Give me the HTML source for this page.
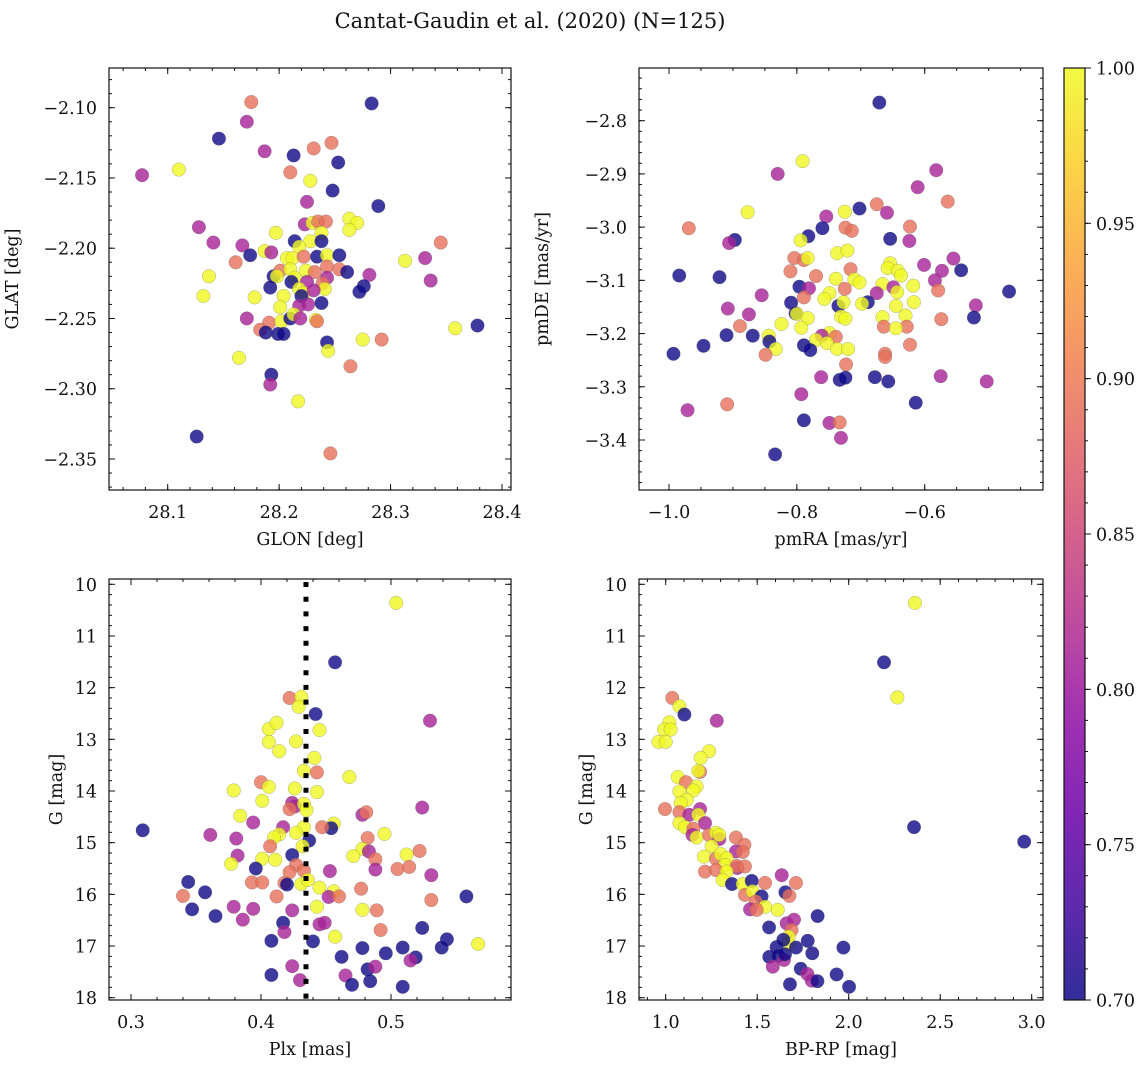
<!DOCTYPE html>
<html><head><meta charset="utf-8"><style>
html,body{margin:0;padding:0;background:#fff;}
svg text{font-family:"DejaVu Serif","Liberation Serif",serif;fill:#111;}
</style></head><body>
<svg id="fig" width="1148" height="1067" viewBox="0 0 1148 1067" xmlns="http://www.w3.org/2000/svg">
<defs>
<linearGradient id="plasma" x1="0" y1="1" x2="0" y2="0">
<stop offset="0" stop-color="#0d0887"/><stop offset="0.1" stop-color="#41049d"/><stop offset="0.2" stop-color="#6a00a8"/><stop offset="0.3" stop-color="#8f0da4"/><stop offset="0.4" stop-color="#b12a90"/><stop offset="0.5" stop-color="#cc4778"/><stop offset="0.6" stop-color="#e16462"/><stop offset="0.7" stop-color="#f2844b"/><stop offset="0.8" stop-color="#fca636"/><stop offset="0.9" stop-color="#fcce25"/><stop offset="1" stop-color="#f0f921"/>
</linearGradient>
</defs>
<text x="530" y="28" font-size="21" text-anchor="middle">Cantat-Gaudin et al. (2020) (N=125)</text>
</svg>
<script>
// Panel 1: GLON / GLAT
const glon=[28.175,28.283,28.171,28.146,28.247,28.231,28.187,28.213,28.253,28.077,28.110,28.210,28.228,28.248,28.289,28.225,28.128,28.197,28.223,28.230,28.235,28.242,28.263,28.270,28.263,28.238,28.141,28.167,28.214,28.228,28.238,28.218,28.345,28.174,28.187,28.193,28.161,28.207,28.212,28.222,28.234,28.243,28.254,28.313,28.331,28.137,28.195,28.201,28.198,28.210,28.214,28.224,28.232,28.243,28.254,28.261,28.281,28.336,28.192,28.211,28.225,28.243,28.239,28.241,28.276,28.272,28.132,28.178,28.204,28.218,28.222,28.231,28.220,28.238,28.201,28.218,28.226,28.171,28.191,28.202,28.210,28.213,28.219,28.233,28.234,28.183,28.188,28.199,28.204,28.243,28.244,28.275,28.292,28.358,28.378,28.164,28.264,28.193,28.192,28.217,28.126,28.246];
const glat=[-2.096,-2.097,-2.110,-2.122,-2.125,-2.129,-2.131,-2.134,-2.139,-2.148,-2.144,-2.146,-2.152,-2.159,-2.170,-2.167,-2.185,-2.189,-2.183,-2.182,-2.181,-2.181,-2.179,-2.182,-2.187,-2.189,-2.196,-2.198,-2.195,-2.195,-2.195,-2.199,-2.196,-2.205,-2.202,-2.203,-2.210,-2.207,-2.207,-2.206,-2.206,-2.205,-2.205,-2.209,-2.207,-2.220,-2.220,-2.216,-2.220,-2.215,-2.221,-2.216,-2.217,-2.213,-2.215,-2.217,-2.219,-2.223,-2.228,-2.224,-2.224,-2.221,-2.225,-2.229,-2.227,-2.231,-2.234,-2.235,-2.234,-2.229,-2.232,-2.230,-2.234,-2.239,-2.242,-2.241,-2.240,-2.250,-2.253,-2.252,-2.250,-2.247,-2.250,-2.251,-2.252,-2.258,-2.260,-2.261,-2.261,-2.267,-2.273,-2.265,-2.265,-2.257,-2.255,-2.278,-2.284,-2.290,-2.297,-2.309,-2.334,-2.346];
const prob1=[0.89,0.7,0.81,0.7,0.89,0.89,0.81,0.7,0.7,0.81,1,0.89,1,0.7,0.7,0.81,0.81,1,0.81,1,0.89,0.89,1,1,1,1,0.81,0.81,0.7,1,0.7,1,0.89,0.7,1,0.81,0.89,1,1,0.89,0.7,1,0.7,1,0.81,1,0.7,0.89,1,1,1,1,0.89,0.89,0.89,0.7,0.81,0.81,0.7,0.7,0.81,0.81,0.89,1,0.7,0.7,1,1,1,1,1,0.81,0.7,0.7,1,0.81,0.81,0.81,0.89,1,0.7,1,0.81,1,0.89,0.89,0.7,0.7,0.7,0.7,1,1,0.89,1,0.7,1,0.89,0.7,0.81,1,0.7,0.89];
// Panel 2: pmRA / pmDE
const pmra=[-0.671,-0.791,-0.830,-0.582,-0.611,-0.564,-0.877,-0.969,-0.675,-0.702,-0.659,-0.725,-0.754,-0.760,-0.724,-0.714,-0.623,-0.654,-0.624,-0.897,-0.906,-0.782,-0.794,-0.737,-0.721,-0.804,-0.789,-0.783,-0.601,-0.555,-0.543,-0.573,-0.984,-0.921,-0.810,-0.770,-0.739,-0.716,-0.710,-0.702,-0.654,-0.658,-0.642,-0.637,-0.584,-0.796,-0.781,-0.725,-0.666,-0.618,-0.649,-0.855,-0.468,-0.789,-0.749,-0.757,-0.675,-0.643,-0.579,-0.809,-0.735,-0.727,-0.689,-0.698,-0.617,-0.645,-0.520,-0.908,-0.802,-0.800,-0.875,-0.783,-0.731,-0.724,-0.666,-0.630,-0.523,-0.574,-0.824,-0.889,-0.793,-0.664,-0.628,-0.645,-0.910,-0.869,-0.844,-0.843,-0.749,-0.739,-0.761,-0.770,-0.753,-0.789,-0.779,-0.737,-0.720,-0.833,-0.623,-0.946,-0.993,-0.849,-0.662,-0.662,-0.723,-0.762,-0.733,-0.724,-0.678,-0.657,-0.575,-0.503,-0.793,-0.614,-0.909,-0.971,-0.789,-0.749,-0.733,-0.731,-0.834];
const pmde=[-2.766,-2.876,-2.900,-2.893,-2.925,-2.952,-2.972,-3.002,-2.957,-2.965,-2.973,-2.971,-2.980,-3.002,-3.001,-3.007,-2.999,-3.022,-3.026,-3.024,-3.030,-3.017,-3.025,-3.049,-3.044,-3.058,-3.062,-3.058,-3.071,-3.059,-3.081,-3.082,-3.091,-3.094,-3.083,-3.092,-3.097,-3.079,-3.098,-3.104,-3.068,-3.077,-3.082,-3.091,-3.100,-3.112,-3.115,-3.116,-3.107,-3.110,-3.113,-3.128,-3.121,-3.132,-3.124,-3.135,-3.124,-3.122,-3.119,-3.142,-3.148,-3.141,-3.141,-3.144,-3.141,-3.148,-3.147,-3.153,-3.162,-3.163,-3.164,-3.171,-3.168,-3.172,-3.169,-3.166,-3.170,-3.173,-3.182,-3.186,-3.189,-3.187,-3.187,-3.190,-3.203,-3.204,-3.204,-3.215,-3.199,-3.206,-3.204,-3.212,-3.218,-3.222,-3.231,-3.229,-3.229,-3.229,-3.221,-3.223,-3.238,-3.240,-3.238,-3.244,-3.258,-3.282,-3.287,-3.283,-3.282,-3.290,-3.280,-3.290,-3.314,-3.330,-3.333,-3.344,-3.363,-3.368,-3.367,-3.396,-3.427];
const prob2=[0.7,1,0.81,0.81,0.81,0.89,1,0.89,0.89,0.7,0.81,1,0.81,0.7,0.89,0.89,0.89,0.7,0.81,0.7,0.81,0.7,1,1,1,0.89,0.89,1,0.81,0.81,0.7,0.81,0.7,0.7,0.89,0.89,1,0.89,1,1,1,1,1,1,0.81,0.7,0.81,0.89,1,1,0.81,0.81,0.7,0.89,1,1,0.81,1,0.89,0.7,0.7,1,0.7,1,1,1,0.81,0.81,0.7,1,0.81,1,1,1,1,1,0.7,0.89,1,0.89,1,0.89,0.89,1,0.7,0.7,1,0.7,1,0.89,0.81,1,1,0.7,0.7,1,1,1,0.89,0.7,0.7,0.89,0.89,0.89,0.89,0.81,0.7,0.7,0.7,0.7,0.81,0.81,0.81,0.7,0.89,0.81,0.7,0.81,0.89,0.81,0.7];
// Panel 3: Plx / G
const plx=[0.504,0.457,0.530,0.422,0.431,0.429,0.442,0.406,0.412,0.445,0.406,0.414,0.427,0.441,0.433,0.443,0.468,0.400,0.406,0.379,0.426,0.443,0.401,0.424,0.426,0.422,0.433,0.435,0.524,0.478,0.481,0.384,0.394,0.456,0.454,0.447,0.433,0.417,0.309,0.361,0.381,0.414,0.410,0.427,0.437,0.482,0.495,0.407,0.432,0.478,0.483,0.424,0.382,0.401,0.411,0.471,0.512,0.522,0.488,0.377,0.396,0.427,0.422,0.433,0.453,0.488,0.505,0.514,0.531,0.344,0.393,0.401,0.418,0.420,0.431,0.436,0.445,0.456,0.452,0.460,0.477,0.357,0.340,0.412,0.558,0.531,0.443,0.379,0.394,0.347,0.424,0.478,0.489,0.365,0.386,0.417,0.445,0.449,0.524,0.492,0.418,0.408,0.440,0.457,0.543,0.539,0.567,0.478,0.496,0.509,0.519,0.515,0.462,0.424,0.482,0.488,0.408,0.430,0.465,0.470,0.484,0.509];
const gmag3=[10.36,11.51,12.64,12.20,12.18,12.37,12.51,12.80,12.68,12.82,13.05,13.23,13.04,13.36,13.61,13.64,13.73,13.83,13.92,13.99,13.95,14.02,14.19,14.23,14.30,14.35,14.25,14.37,14.32,14.46,14.41,14.48,14.61,14.63,14.72,14.70,14.70,14.70,14.76,14.85,14.92,14.84,14.90,14.81,14.96,14.91,14.83,15.07,15.07,15.12,15.17,15.24,15.25,15.31,15.33,15.26,15.23,15.16,15.32,15.41,15.50,15.43,15.57,15.54,15.55,15.52,15.51,15.47,15.63,15.76,15.77,15.77,15.78,15.81,15.80,15.72,15.87,15.94,16.05,16.04,15.89,15.96,16.03,16.04,16.04,16.11,16.24,16.24,16.28,16.29,16.31,16.30,16.31,16.42,16.49,16.55,16.58,16.55,16.65,16.69,16.73,16.90,16.91,16.82,16.87,17.03,16.96,17.04,17.14,17.03,17.22,17.28,17.21,17.39,17.45,17.40,17.56,17.66,17.57,17.75,17.68,17.79];
const prob3=[1,0.7,0.81,0.89,1,1,0.7,1,1,1,1,1,1,1,1,0.89,1,0.89,1,1,1,1,1,0.81,0.81,0.89,1,1,0.81,0.81,0.89,1,0.81,1,0.7,0.89,1,0.81,0.7,0.81,0.81,1,1,1,0.7,0.89,1,0.89,1,1,0.81,0.7,0.81,1,1,1,1,0.89,0.89,1,0.7,0.89,0.89,0.89,0.81,0.81,0.89,0.89,0.81,0.7,0.89,0.89,0.89,0.7,1,1,1,1,0.81,0.89,0.89,0.7,0.89,0.89,0.7,0.89,1,0.81,0.81,0.7,0.81,1,0.89,0.7,0.81,0.7,0.81,0.81,0.7,0.89,0.81,0.7,0.7,1,0.7,0.7,1,0.7,0.7,0.7,0.7,0.81,0.7,0.81,0.7,0.81,0.7,0.81,0.81,0.7,0.7,0.7];
const plxLine=[0.4346];
// Panel 4: BP-RP / G
const bprp=[2.362,2.193,2.266,2.959,2.357,1.036,1.075,1.102,1.279,1.020,0.991,1.027,0.960,1.000,1.237,1.191,1.188,1.178,1.066,1.111,1.169,1.075,1.151,1.115,1.082,0.996,1.075,1.129,1.188,1.178,1.215,1.075,1.106,1.151,1.146,1.169,1.237,1.275,1.293,1.293,1.251,1.384,1.430,1.384,1.421,1.209,1.275,1.300,1.333,1.324,1.215,1.275,1.392,1.388,1.433,1.333,1.311,1.362,1.421,1.470,1.543,1.712,1.634,1.433,1.475,1.524,1.492,1.654,1.676,1.543,1.612,1.461,1.497,1.830,1.565,1.661,1.701,1.688,1.672,1.672,1.776,1.712,1.606,1.801,1.971,1.566,1.616,1.646,1.585,1.738,1.774,1.798,1.829,1.934,1.679,2.002,1.652,1.643];
const gmag4=[10.36,11.51,12.19,14.98,14.70,12.20,12.36,12.52,12.64,12.67,12.81,12.81,13.05,13.05,13.23,13.36,13.63,13.61,13.73,13.83,13.91,14.01,13.99,14.17,14.23,14.35,14.41,14.46,14.35,14.46,14.62,14.62,14.70,14.73,14.85,14.90,14.85,14.81,14.93,14.85,15.07,14.90,15.04,15.17,15.18,15.27,15.31,15.22,15.30,15.43,15.56,15.53,15.49,15.45,15.46,15.56,15.72,15.80,15.80,15.74,15.78,15.78,15.63,16.01,15.94,16.04,16.14,15.96,16.03,16.24,16.30,16.29,16.30,16.42,16.64,16.56,16.49,16.69,16.82,16.96,16.90,17.03,17.02,17.14,17.03,17.21,17.19,17.27,17.40,17.44,17.54,17.67,17.68,17.55,17.74,17.79,17.16,16.88];
const prob4=[1,0.7,1,0.7,0.7,0.89,1,0.7,0.81,1,1,1,1,1,1,1,0.89,1,1,0.89,1,1,1,1,1,0.89,0.89,0.81,0.81,1,0.81,1,1,0.89,0.81,1,0.89,1,0.81,1,1,0.89,0.89,0.81,0.89,1,0.89,1,1,1,0.89,0.89,0.81,0.89,0.89,1,1,0.7,1,0.7,0.89,0.89,0.81,0.89,1,0.7,0.89,0.7,0.89,1,1,0.81,0.89,0.7,0.7,0.81,0.81,0.89,1,1,0.7,0.7,0.7,0.7,0.7,0.7,0.7,0.81,0.81,0.7,0.81,0.81,0.7,0.7,0.7,0.7,0.7,0.7];
// tick labels
const ticks1x=[28.1,28.2,28.3,28.4], ticks1y=[-2.10,-2.15,-2.20,-2.25,-2.30,-2.35];
const ticks2x=[-1.0,-0.8,-0.6], ticks2y=[-2.8,-2.9,-3.0,-3.1,-3.2,-3.3,-3.4];
const ticks3x=[0.3,0.4,0.5], ticksGy=[10,11,12,13,14,15,16,17,18];
const ticks4x=[1.0,1.5,2.0,2.5,3.0];
const cbTicks=[0.70,0.75,0.80,0.85,0.90,0.95,1.00];
const cbMin=0.70, cbMax=1.00;

const NS="http://www.w3.org/2000/svg";
const svg=document.getElementById('fig');
function mk(tag,attrs,parent){const e=document.createElementNS(NS,tag);for(const k in attrs)e.setAttribute(k,attrs[k]);(parent||svg).appendChild(e);return e;}
const stops=[[0,13,8,135],[0.1,65,4,157],[0.2,106,0,168],[0.3,143,13,164],[0.4,177,42,144],[0.5,204,71,120],[0.6,225,100,98],[0.7,242,132,75],[0.8,252,166,54],[0.9,252,206,37],[1,240,249,33]];
function plasma(v){const t=Math.max(0,Math.min(1,(v-cbMin)/(cbMax-cbMin)));for(let i=1;i<stops.length;i++){if(t<=stops[i][0]){const a=stops[i-1],b=stops[i],f=(t-a[0])/(b[0]-a[0]);return 'rgb('+[1,2,3].map(j=>Math.round(a[j]+f*(b[j]-a[j]))).join(',')+')';}}return 'rgb(240,249,33)';}
function lin(d0,d1,p0,p1){return v=>p0+(v-d0)*(p1-p0)/(d1-d0);}
function fmtMinus(s){return s.replace('-','\u2212');}

const FS=17.5;
const panels=[
 {name:'position',box:[109,68,511,490],sx:lin(28.1,28.4,167.7,502),sy:lin(-2.10,-2.35,107.7,459),
  xt:ticks1x,yt:ticks1y,xdec:1,ydec:2,xminor:0.02,yminor:0.01,xr:[28.04,28.42],yr:[-2.38,-2.06],
  xl:'GLON [deg]',yl:'GLAT [deg]',X:glon,Y:glat,P:prob1},
 {name:'proper-motion',box:[639,68,1043,490],sx:lin(-1.0,-0.6,669,924.7),sy:lin(-2.8,-3.4,120.7,440),
  xt:ticks2x,yt:ticks2y,xdec:1,ydec:1,xminor:0.05,yminor:0.02,xr:[-1.06,-0.40],yr:[-3.5,-2.68],
  xl:'pmRA [mas/yr]',yl:'pmDE [mas/yr]',X:pmra,Y:pmde,P:prob2},
 {name:'parallax-magnitude',box:[109,579,511,1000],sx:lin(0.3,0.5,131,391),sy:lin(10,18,584.3,997.7),
  xt:ticks3x,yt:ticksGy,xdec:1,ydec:0,xminor:0.02,yminor:0.2,xr:[0.28,0.6],yr:[9.8,18.2],
  xl:'Plx [mas]',yl:'G [mag]',X:plx,Y:gmag3,P:prob3,vline:true},
 {name:'color-magnitude',box:[639,579,1043,1000],sx:lin(1.0,3.0,665.7,1031.7),sy:lin(10,18,584.3,997.7),
  xt:ticks4x,yt:ticksGy,xdec:1,ydec:0,xminor:0.1,yminor:0.2,xr:[0.8,3.1],yr:[9.8,18.2],
  xl:'BP-RP [mag]',yl:'G [mag]',X:bprp,Y:gmag4,P:prob4}
];

panels.forEach(pn=>{
 const [x0,y0,x1,y1]=pn.box;
 const g=mk('g',{});
 
 
 const pts=mk('g',{},g);
 
 
 const n=Math.min(pn.X.length,pn.Y.length,pn.P.length);
 for(let i=0;i<n;i++){
  const c=mk('circle',{cx:pn.sx(pn.X[i]),cy:pn.sy(pn.Y[i]),r:6.8,fill:plasma(pn.P[i]),'fill-opacity':0.8,stroke:'#666','stroke-opacity':0.5,'stroke-width':0.5},pts);
  
  
 }
 if(pn.vline){
  const vx=pn.sx(plxLine[0]);
  const l=mk('line',{x1:vx,x2:vx,y1:y0+3,y2:y1,stroke:'#000','stroke-width':5,'stroke-dasharray':'5 9.7'},g);
  
  
 }
 const fr=mk('rect',{x:x0,y:y0,width:x1-x0,height:y1-y0,fill:'none',stroke:'#111','stroke-width':1.2},g);
 
 
 const tk=mk('g',{stroke:'#111','stroke-width':1},g);
 for(let v=Math.ceil(pn.xr[0]/pn.xminor)*pn.xminor;v<=pn.xr[1];v+=pn.xminor){const px=pn.sx(v);if(px<=x0+0.5||px>=x1-0.5)continue;mk('line',{x1:px,x2:px,y1:y1,y2:y1-3},tk);mk('line',{x1:px,x2:px,y1:y0,y2:y0+3},tk);}
 for(let v=Math.ceil(pn.yr[0]/pn.yminor)*pn.yminor;v<=pn.yr[1];v+=pn.yminor){const py=pn.sy(v);if(py<=y0+0.5||py>=y1-0.5)continue;mk('line',{x1:x0,x2:x0+3,y1:py,y2:py},tk);mk('line',{x1:x1,x2:x1-3,y1:py,y2:py},tk);}
 pn.xt.forEach(v=>{const px=pn.sx(v);mk('line',{x1:px,x2:px,y1:y1,y2:y1-6},tk);mk('line',{x1:px,x2:px,y1:y0,y2:y0+6},tk);
  const t=mk('text',{x:px,y:y1+28,'font-size':FS,'text-anchor':'middle'},g);t.textContent=fmtMinus(v.toFixed(pn.xdec));
  
  });
 pn.yt.forEach(v=>{const py=pn.sy(v);mk('line',{x1:x0,x2:x0+6,y1:py,y2:py},tk);mk('line',{x1:x1,x2:x1-6,y1:py,y2:py},tk);
  const t=mk('text',{x:x0-12,y:py+6.5,'font-size':FS,'text-anchor':'end'},g);t.textContent=fmtMinus(v.toFixed(pn.ydec));
  
  });
 const xl=mk('text',{x:(x0+x1)/2,y:y1+55,'font-size':FS,'text-anchor':'middle'},g);xl.textContent=pn.xl;
 
 
 const ylx=x0-(pn.ydec===0?47:91);
 const yl=mk('text',{x:ylx,y:(y0+y1)/2,'font-size':FS,'text-anchor':'middle',transform:'rotate(-90 '+ylx+' '+(y0+y1)/2+')'},g);yl.textContent=pn.yl;
 
 
});

const cb=mk('g',{});


const cby=lin(cbMin,cbMax,1000,68);
const cr=mk('rect',{x:1064,y:68,width:21,height:932,fill:'url(#plasma)','fill-opacity':0.85,stroke:'#111','stroke-width':1.2},cb);


for(let v=cbMin+0.01;v<cbMax-0.005;v+=0.01){const py=cby(v);mk('line',{x1:1085,x2:1088,y1:py,y2:py,stroke:'#111','stroke-width':1},cb);}
cbTicks.forEach(v=>{const py=cby(v);mk('line',{x1:1085,x2:1091,y1:py,y2:py,stroke:'#111','stroke-width':1},cb);
 const t=mk('text',{x:1096,y:py+6.5,'font-size':FS},cb);t.textContent=v.toFixed(2);
 
 });
</script>
</body></html>
